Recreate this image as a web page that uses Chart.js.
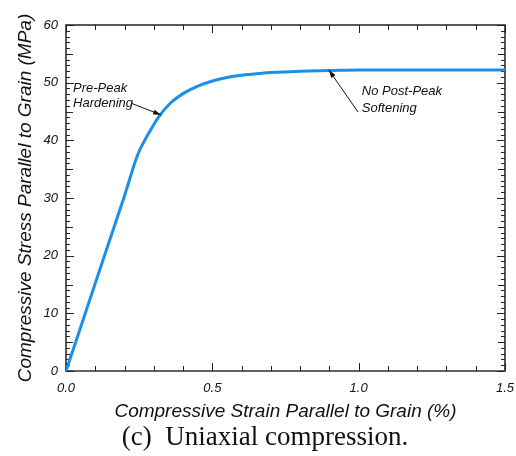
<!DOCTYPE html>
<html>
<head>
<meta charset="utf-8">
<script src="https://cdn.jsdelivr.net/npm/chart.js@4.4.1/dist/chart.umd.min.js"></script>
<style>
  html, body { margin: 0; padding: 0; background: #fff; }
  #wrap { width: 516px; height: 456px; }
</style>
</head>
<body>
<div id="wrap"><canvas id="c" width="516" height="456"></canvas></div>
<script>
// ---- data ----
const strain = [0, 0.05, 0.10, 0.15, 0.20, 0.245, 0.28, 0.32, 0.36, 0.40, 0.45, 0.50, 0.55, 0.60, 0.66, 0.72, 0.80, 0.90, 1.00, 1.20, 1.50];
const stress = [0, 7.6, 15.2, 22.8, 30.4, 37.5, 41.0, 44.3, 46.6, 48.1, 49.4, 50.3, 50.9, 51.3, 51.6, 51.8, 52.0, 52.1, 52.2, 52.2, 52.2];
const xTickLabels = ['0.0', '0.5', '1.0', '1.5'];
const yTickLabels = ['0', '10', '20', '30', '40', '50', '60'];
const seriesLabel = 'Uniaxial compression';
const xTitle = 'Compressive Strain Parallel to Grain (%)';
const yTitle = 'Compressive Stress Parallel to Grain (MPa)';
const caption = '(c)  Uniaxial compression.';
const annotations = [
  { lines: ['Pre-Peak', 'Hardening'], tx: 0.024, ty: [49.0, 46.4], from: [0.225, 46.4], to: [0.325, 44.4] },
  { lines: ['No Post-Peak', 'Softening'], tx: 1.011, ty: [48.5, 45.6], from: [0.998, 44.9], to: [0.898, 52.2] }
];

const sans = '"Liberation Sans", Arial, sans-serif';

const framePlugin = {
  id: 'frame',
  beforeDatasetsDraw(chart) {
    const { ctx, chartArea: a, scales: { x, y } } = chart;
    ctx.save();
    ctx.strokeStyle = '#222';
    ctx.lineWidth = 1.5;
    ctx.strokeRect(a.left, a.top, a.right - a.left, a.bottom - a.top);
    ctx.strokeStyle = '#666';
    ctx.beginPath(); ctx.moveTo(a.left, a.bottom); ctx.lineTo(a.right, a.bottom); ctx.stroke();
    ctx.strokeStyle = '#222';
    ctx.lineWidth = 1;
    ctx.beginPath();
    for (let i = 0; i <= 15; i++) {
      const px = Math.round(x.getPixelForValue(i / 10)) + 0.5;
      const len = (i % 5 === 0) ? 8 : 5;
      ctx.moveTo(px, a.bottom); ctx.lineTo(px, a.bottom - len);
      ctx.moveTo(px, a.top); ctx.lineTo(px, a.top + len);
    }
    for (let v = 0; v <= 60; v++) {
      const py = Math.round(y.getPixelForValue(v)) + 0.5;
      const len = (v % 10 === 0) ? 8 : (v % 5 === 0 ? 7 : 4);
      ctx.moveTo(a.left, py); ctx.lineTo(a.left + len, py);
      ctx.moveTo(a.right, py); ctx.lineTo(a.right - len, py);
    }
    ctx.stroke();
    ctx.restore();
  },
  afterDatasetsDraw(chart) {
    const { ctx, scales: { x, y } } = chart;
    ctx.save();
    ctx.font = 'italic 13px ' + sans;
    ctx.fillStyle = '#111';
    ctx.textBaseline = 'middle';
    ctx.textAlign = 'left';
    annotations.forEach(an => {
      an.lines.forEach((t, i) => ctx.fillText(t, x.getPixelForValue(an.tx), y.getPixelForValue(an.ty[i])));
      const x1 = x.getPixelForValue(an.from[0]), y1 = y.getPixelForValue(an.from[1]);
      const x2 = x.getPixelForValue(an.to[0]), y2 = y.getPixelForValue(an.to[1]);
      ctx.strokeStyle = '#111';
      ctx.lineWidth = 1;
      ctx.beginPath(); ctx.moveTo(x1, y1); ctx.lineTo(x2, y2); ctx.stroke();
      const ang = Math.atan2(y2 - y1, x2 - x1), L = 8, W = 2.5;
      ctx.beginPath();
      ctx.moveTo(x2, y2);
      ctx.lineTo(x2 - L * Math.cos(ang) + W * Math.sin(ang), y2 - L * Math.sin(ang) - W * Math.cos(ang));
      ctx.lineTo(x2 - L * Math.cos(ang) - W * Math.sin(ang), y2 - L * Math.sin(ang) + W * Math.cos(ang));
      ctx.closePath(); ctx.fill();
    });
    ctx.restore();
  },
  afterDraw(chart) {
    const { ctx } = chart;
    ctx.save();
    ctx.font = '27px "Liberation Serif", "Times New Roman", serif';
    ctx.fillStyle = '#111';
    ctx.textAlign = 'center';
    ctx.textBaseline = 'alphabetic';
    ctx.fillText(caption, 265, 445);
    ctx.restore();
  }
};

new Chart(document.getElementById('c'), {
  type: 'line',
  data: {
    datasets: [{
      label: seriesLabel,
      data: strain.map((s, i) => ({ x: s, y: stress[i] })),
      borderColor: '#1d8fe6',
      borderWidth: 3,
      pointRadius: 0,
      cubicInterpolationMode: 'monotone',
      fill: false
    }]
  },
  options: {
    responsive: false,
    animation: false,
    devicePixelRatio: 1,
    layout: { padding: { top: 25, right: 7, left: 0, bottom: 33 } },
    plugins: {
      legend: { display: false },
      tooltip: { enabled: false },
      title: { display: false }
    },
    scales: {
      x: {
        type: 'linear', min: 0, max: 1.5,
        afterFit(s) { s.height = 52; },
        grid: { display: false },
        border: { display: false },
        ticks: {
          stepSize: 0.5,
          padding: 2,
          maxRotation: 0,
          font: { family: sans, style: 'italic', size: 13 },
          color: '#111',
          callback: (v) => xTickLabels[Math.round(v * 2)]
        },
        title: {
          display: true, text: xTitle,
          font: { family: sans, style: 'italic', size: 19 },
          color: '#111',
          padding: { top: 0, bottom: 0 }
        }
      },
      y: {
        type: 'linear', min: 0, max: 60,
        afterFit(s) { s.width = 66; },
        grid: { display: false },
        border: { display: false },
        ticks: {
          stepSize: 10,
          padding: 0,
          font: { family: sans, style: 'italic', size: 13 },
          color: '#111',
          callback: (v) => yTickLabels[Math.round(v / 10)]
        },
        title: {
          display: true, text: yTitle,
          font: { family: sans, style: 'italic', size: 19 },
          color: '#111',
          padding: { top: 14, bottom: 0 }
        }
      }
    }
  },
  plugins: [framePlugin]
});
</script>
</body>
</html>
